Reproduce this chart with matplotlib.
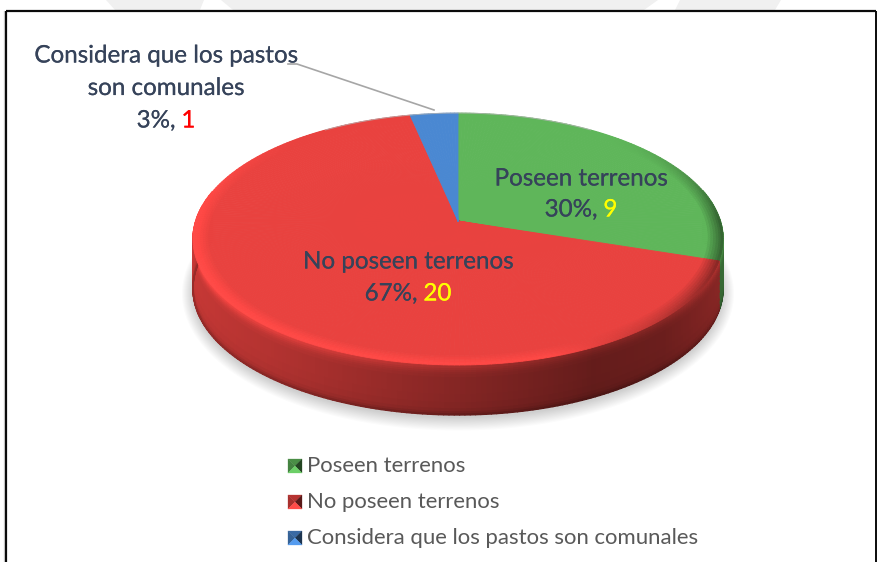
import numpy as np
import matplotlib
matplotlib.use("Agg")
import matplotlib.pyplot as plt
import matplotlib.patheffects as pe
from matplotlib.collections import PolyCollection
from matplotlib.colors import to_rgb

# Data
categories = ["Poseen terrenos", "No poseen terrenos", "Considera que los pastos son comunales"]
values = [9, 20, 1]
value_colors = ["#ffff00", "#ffff00", "#ff0000"]
slice_colors = ["#5fb65a", "#e9423f", "#4a88d2"]

# Pie geometry in pixels
CX, CY = 458, 221
A, B, K = 262.3, 123.4, 0.1429
DEPTH = 50
TEXT = "#36435a"
LEGEND_TEXT = "#595959"
plt.rcParams["font.family"] = ["Lato", "DejaVu Sans"]


def heavier(color):
    return [pe.withStroke(linewidth=0.12, foreground=color)]


def project(theta, r=1.0, drop=0.0):
    # disk seen in perspective, theta is clockwise from the top
    u = r * np.sin(theta)
    v = r * np.cos(theta)
    w = 1 + K * v
    return CX + A * u / w, CY - B * v / w + drop


def shaded(color, factor):
    return tuple(np.clip(np.array(to_rgb(color)) * factor, 0, 1))


def slice_edges():
    shares = np.array(values) / sum(values)
    return np.concatenate([[0], np.cumsum(shares)]) * 2 * np.pi


def draw_shadow(ax):
    t = np.linspace(0, 2 * np.pi, 240)
    for grow in np.linspace(11, 0, 12):
        x, y = project(t, 1.0, DEPTH + 3)
        x = CX + (x - CX) * (1 + grow / 265)
        y = CY + DEPTH + 3 + (y - CY - DEPTH - 3) * (1 + grow / 126)
        ax.fill(x, y, color="#000000", alpha=0.014, lw=0, zorder=2)


def draw_side(ax):
    edges = slice_edges()
    depth_steps = np.array([0, 2, 4, 6, 8, 10, 13, 17, 22, 30, 38, 44, 47, 49, 50])
    depth_shade = [1.3, 1.24, 1.17, 1.11, 1.06, 1.03, 1.0, 1.0, 1.0, 0.99, 0.97, 0.93, 0.86, 0.76]
    polys, cols = [], []
    for i, color in enumerate(slice_colors):
        angles = np.linspace(edges[i], edges[i + 1], int(360 * values[i] / sum(values)) + 2)
        for t0, t1 in zip(angles[:-1], angles[1:]):
            if np.cos((t0 + t1) / 2) > 0.25:
                continue
            u = np.sin((t0 + t1) / 2)
            base = np.interp(u, [-1, -0.6, -0.1, 0.45, 0.7, 0.9, 1], [0.86, 0.76, 0.6, 0.43, 0.46, 0.56, 0.6])
            for d0, d1, s in zip(depth_steps[:-1], depth_steps[1:], depth_shade):
                x0, y0 = project(t0, 1.0, d0)
                x1, y1 = project(t1, 1.0, d0)
                x2, y2 = project(t1, 1.0, d1)
                x3, y3 = project(t0, 1.0, d1)
                polys.append([(x0, y0), (x1, y1), (x2, y2), (x3, y3)])
                cols.append(shaded(color, base * s))
    ax.add_collection(PolyCollection(polys, facecolors=cols, edgecolors=cols, linewidths=1.0, zorder=3))


def draw_top(ax):
    edges = slice_edges()
    rings = np.array([0, 0.945, 0.955, 0.965, 0.975, 0.985, 0.993, 1.0])
    for i, color in enumerate(slice_colors):
        polys, cols = [], []
        angles = np.linspace(edges[i], edges[i + 1], int(360 * values[i] / sum(values)) + 2)
        for t0, t1 in zip(angles[:-1], angles[1:]):
            mid = (t0 + t1) / 2
            u, v = np.sin(mid), np.cos(mid)
            rim = np.interp(u, [-1, -0.3, 0.3, 0.65, 0.85, 1], [1.14, 1.12, 1.1, 0.86, 0.68, 0.55])
            # the bevel fades out towards the far edge
            fade = np.clip((0.75 - v) / 0.75, 0, 1)
            for j in range(len(rings) - 1):
                r0, r1 = rings[j], rings[j + 1]
                w = j / (len(rings) - 2)
                x0, y0 = project(t0, r0)
                x1, y1 = project(t1, r0)
                x2, y2 = project(t1, r1)
                x3, y3 = project(t0, r1)
                polys.append([(x0, y0), (x1, y1), (x2, y2), (x3, y3)])
                cols.append(shaded(color, 1 + (rim - 1) * w * fade))
        ax.add_collection(PolyCollection(polys, facecolors=cols, edgecolors=cols, linewidths=0.6, zorder=4 + i * 0.1))
    # thin gray line on the far rim
    t = np.linspace(-0.6, 0.6, 80)
    x, y = project(t)
    ax.plot(x, y, color="#b5b5b5", lw=0.7, alpha=0.8, zorder=5)


def colored_line(ax, fig, x, y, pieces, size):
    # pieces of text with their own colors, centered together on x
    renderer = fig.canvas.get_renderer()
    items = [ax.text(0, y, s, color=c, fontsize=size, va="center", ha="left", zorder=8, path_effects=heavier(c))
             for s, c in pieces]
    widths = [it.get_window_extent(renderer).width for it in items]
    left = x - sum(widths) / 2
    for it, wd in zip(items, widths):
        it.set_x(left)
        left += wd


def pie_label(ax, fig, x, y, lines, value, color, size=17.4, gap=32.5):
    total = sum(values)
    for n, line in enumerate(lines):
        ax.text(x, y + n * gap, line, color=TEXT, fontsize=size, ha="center", va="center", zorder=8,
                path_effects=heavier(TEXT))
    pct = f"{round(100 * value / total)}%, "
    colored_line(ax, fig, x, y + len(lines) * gap, [(pct, TEXT), (str(value), color)], size)


def legend_key(ax, x, y, color, size=14):
    mx, my = x + size / 2, y + size / 2
    sides = [
        ([(x, y), (x + size, y), (mx, my)], 0.78),
        ([(x, y), (x, y + size), (mx, my)], 0.72),
        ([(x + size, y), (x + size, y + size), (mx, my)], 0.38),
        ([(x, y + size), (x + size, y + size), (mx, my)], 1.14),
    ]
    for pts, s in sides:
        ax.fill(*zip(*pts), color=shaded(color, s), lw=0.2, zorder=6)


fig = plt.figure(figsize=(8.77, 5.62), dpi=100)
ax = fig.add_axes([0, 0, 1, 1])
ax.set_xlim(0, 877)
ax.set_ylim(562, 0)
ax.axis("off")

# Page watermark strip above the frame
strip_bands = [(106, 204, 115, 200), (221, 658, 233, 644), (680, 781, 675, 775)]
for x0, x1, x0b, x1b in strip_bands:
    ax.fill([x0, x1, x1b, x0b], [0, 0, 10, 10], color="#f0f0f0", lw=0, zorder=1)

# Chart frame
ax.plot([6, 6], [562, 11], color="#0a0a0a", lw=1.6, zorder=7, solid_capstyle="butt")
ax.plot([5.5, 876], [11, 11], color="#0a0a0a", lw=1.6, zorder=7, solid_capstyle="butt")
ax.plot([876, 876], [10.5, 562], color="#0a0a0a", lw=1.4, zorder=7, solid_capstyle="butt")
ax.plot([4, 4], [11, 562], color="#d8d8d8", lw=1, zorder=1)

draw_shadow(ax)
draw_side(ax)
draw_top(ax)

# Leader line for the small slice
ax.plot([288, 297, 434], [64, 64, 110], color="#a6a6a6", lw=1.2, zorder=6)

pie_label(ax, fig, 166, 56, ["Considera que los pastos", "son comunales"], values[2], value_colors[2])
pie_label(ax, fig, 581, 179, ["Poseen terrenos"], values[0], value_colors[0], gap=31)
pie_label(ax, fig, 408, 262, ["No poseen terrenos"], values[1], value_colors[1], gap=32)

# Legend
for name, color, y in zip(categories, slice_colors, [459, 495, 531]):
    legend_key(ax, 288, y, color)
    ax.text(307, y + 7, name, color=LEGEND_TEXT, fontsize=15.9, va="center", ha="left", zorder=8)

fig.savefig("out.png", dpi=100)
